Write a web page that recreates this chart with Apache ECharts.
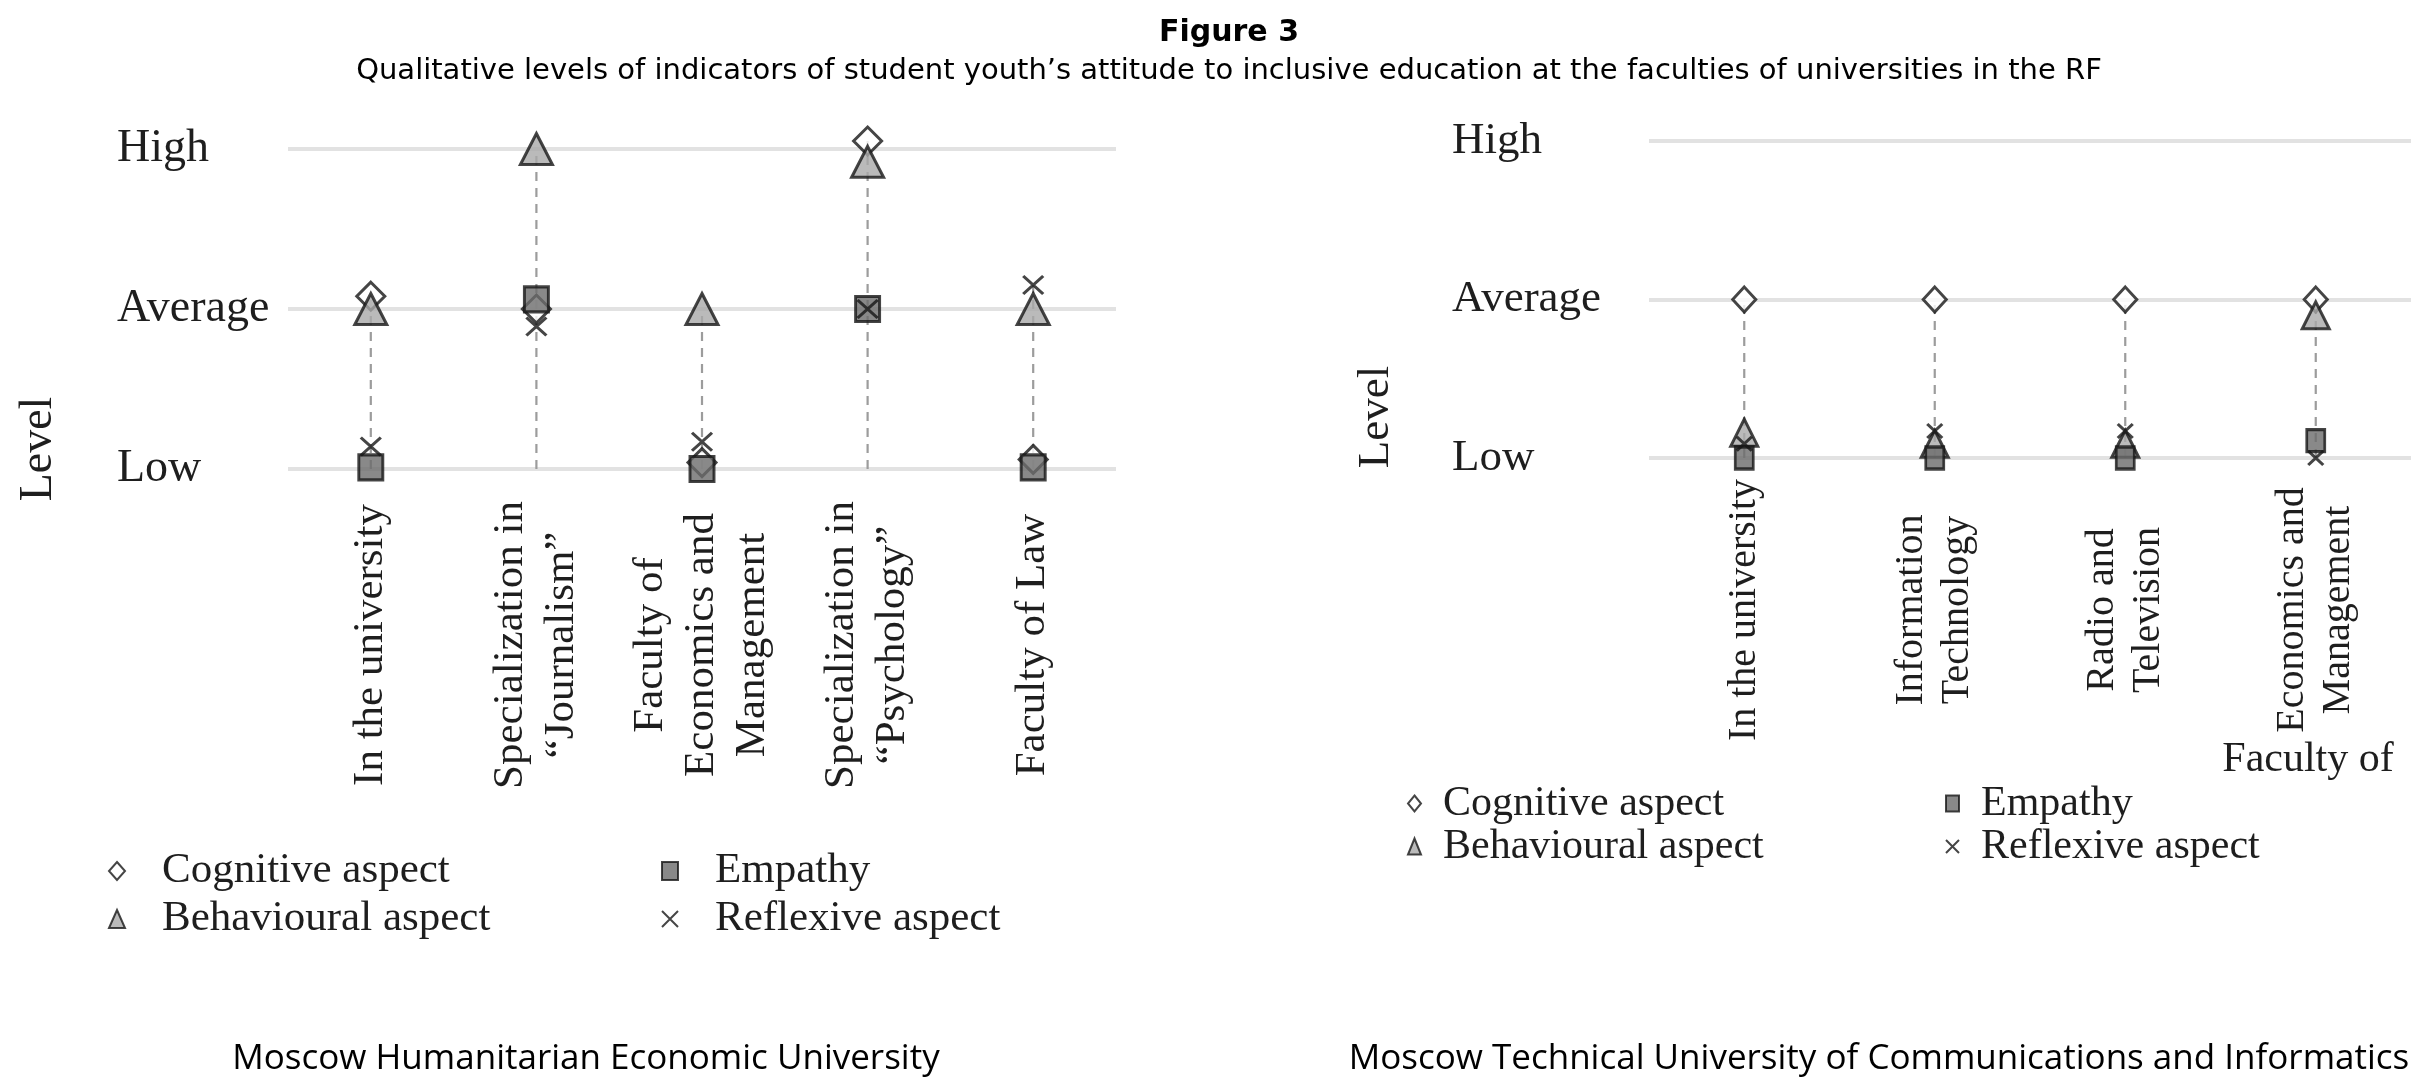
<!DOCTYPE html>
<html>
<head>
<meta charset="utf-8">
<script src="https://cdn.jsdelivr.net/npm/echarts@6/dist/echarts.min.js"></script>
<style>
html,body{margin:0;padding:0;background:#fff;}
#chart{width:2422px;height:1077px;}
</style>
</head>
<body>
<div id="chart"></div>
<script>
// ---- data ----
const levelLabels = ["Low", "Average", "High"]; // 1, 2, 3

const leftCategories = ["In the university", "Specialization in\n\u201cJournalism\u201d", "Faculty of\nEconomics and\nManagement", "Specialization in\n\u201cPsychology\u201d", "Faculty of Law"];
const leftCognitive   = [2.08, 2.0, 1.04, 3.05, 1.06];
const leftBehavioural = [2.0, 3.0, 2.0, 2.92, 2.0];
const leftEmpathy     = [1.01, 2.06, 1.0, 2.0, 1.01];
const leftReflexive   = [1.14, 1.89, 1.17, 2.0, 2.15];

const rightCategories = ["In the university", "Information\nTechnology", "Radio and\nTelevision", "Economics and\nManagement"];
const rightCognitive   = [2.0, 2.0, 2.0, 2.0];
const rightBehavioural = [1.16, 1.09, 1.09, 1.90];
const rightEmpathy     = [1.0, 1.0, 1.0, 1.11];
const rightReflexive   = [1.09, 1.17, 1.17, 1.0];

const seriesNames = ["Cognitive aspect", "Behavioural aspect", "Empathy", "Reflexive aspect"];
const figureTitle = "Figure 3";
const figureSubtitle = "Qualitative levels of indicators of student youth\u2019s attitude to inclusive education at the faculties of universities in the RF";
const leftTitle = "Moscow Humanitarian Economic University";
const rightTitle = "Moscow Technical University of Communications and Informatics";
const rightOrphanLabel = "Faculty of";

// ---- styles ----
const SERIF = "'Liberation Serif', 'Times New Roman', serif";
const crossPath = 'path://M0,0L10,10M10,0L0,10';
const styles = [
  {symbol: 'diamond', itemStyle: {color: '#ffffff', borderColor: '#161616', borderWidth: 3}},
  {symbol: 'triangle', itemStyle: {color: '#a9a9a9', borderColor: '#161616', borderWidth: 3}},
  {symbol: 'rect', itemStyle: {color: '#6b6b6b', borderColor: '#161616', borderWidth: 3}},
  {symbol: crossPath, itemStyle: {color: 'rgba(0,0,0,0)', borderColor: '#161616', borderWidth: 3}}
];
const leftSizes = [[28, 28], [32, 31], [24, 25], [20, 18]];
const rightSizes = [[23, 25], [27, 27], [18, 22], [15, 14]];

function stemData(arrs) {
  return arrs[0].map((_, i) => [i, Math.max(...arrs.map(a => a[i]))]);
}
function stemSeries(idx, data) {
  return {
    type: 'custom', xAxisIndex: idx, yAxisIndex: idx, z: 1, silent: true, clip: false,
    data: data,
    renderItem: function (params, api) {
      const x = api.value(0);
      const p1 = api.coord([x, 1]);
      const p2 = api.coord([x, api.value(1)]);
      return {type: 'line', shape: {x1: p1[0], y1: p1[1], x2: p2[0], y2: p2[1]},
        style: {stroke: '#9c9c9c', lineWidth: 2.2, lineDash: [9, 7]}};
    }
  };
}
function scatterSeries(idx, arrs, sizes) {
  return arrs.map((arr, k) => ({
    type: 'scatter', name: seriesNames[k], xAxisIndex: idx, yAxisIndex: idx, clip: false,
    symbol: styles[k].symbol, symbolSize: sizes[k], itemStyle: styles[k].itemStyle,
    z: 2 + k, data: arr.map((v, i) => [i, v])
  }));
}

const leftArrs = [leftCognitive, leftBehavioural, leftEmpathy, leftReflexive];
const rightArrs = [rightCognitive, rightBehavioural, rightEmpathy, rightReflexive];

function yAxis(idx, margin, fs) {
  return {
    type: 'value', gridIndex: idx, min: 1, max: 3, interval: 1,
    axisLine: {show: false}, axisTick: {show: false},
    axisLabel: {formatter: v => levelLabels[v - 1] || '', align: 'left', margin: margin,
      fontFamily: SERIF, fontSize: fs, color: '#1e1e1e'},
    splitLine: {show: true, lineStyle: {color: '#e2e2e2', width: 4}}
  };
}
function xAxis(idx, cats, margin, fs, lh) {
  return {
    type: 'category', gridIndex: idx, data: cats,
    axisLine: {show: false}, axisTick: {show: false},
    axisLabel: {rotate: 90, align: 'center', verticalAlign: 'middle', margin: margin, interval: 0,
      fontFamily: SERIF, fontSize: fs, lineHeight: lh, color: '#1e1e1e'}
  };
}
function legend(names, left, top, padLeft, fs, lh, iw, ih) {
  return {
    data: names, orient: 'vertical', left: left, top: top, itemGap: 0,
    itemWidth: iw, itemHeight: ih, padding: 0,
    textStyle: {fontFamily: SERIF, fontSize: fs, lineHeight: lh, color: '#1e1e1e', padding: [0, 0, 0, padLeft]}
  };
}

const option = {
  backgroundColor: '#ffffff',
  animation: false,
  title: [
    {text: figureTitle, left: 1229, top: 18, textAlign: 'center', padding: 0,
      textStyle: {fontFamily: 'DejaVu Sans', fontWeight: 'bold', fontSize: 30, color: '#000'}},
    {text: figureSubtitle, left: 1229, top: 57, textAlign: 'center', padding: 0,
      textStyle: {fontFamily: 'DejaVu Sans', fontWeight: 'normal', fontSize: 29, color: '#000'}},
    {text: leftTitle, left: 586, top: 1042, textAlign: 'center', padding: 0,
      textStyle: {fontFamily: "'Open Sans'", fontWeight: 'normal', fontSize: 35, color: '#000'}},
    {text: rightTitle, left: 1879, top: 1042, textAlign: 'center', padding: 0,
      textStyle: {fontFamily: "'Open Sans'", fontWeight: 'normal', fontSize: 35, color: '#000'}}
  ],
  grid: [
    {left: 288, top: 149, width: 828, height: 320},
    {left: 1649, top: 141, width: 762, height: 317}
  ],
  xAxis: [xAxis(0, leftCategories, 176, 43, 51), xAxis(1, rightCategories, 152, 40, 46)],
  yAxis: [yAxis(0, 171, 46), yAxis(1, 197, 45)],
  legend: [
    legend([seriesNames[0], seriesNames[1]], 108, 847, 32, 43, 48, 16, 18),
    legend([seriesNames[2], seriesNames[3]], 661, 847, 32, 43, 48, 16, 18),
    legend([seriesNames[0], seriesNames[1]], 1407, 782, 17, 42, 43, 13, 16),
    legend([seriesNames[2], seriesNames[3]], 1945, 782, 17, 42, 43, 13, 16)
  ],
  graphic: [
    {type: 'text', x: 39, y: 449, rotation: Math.PI / 2,
      style: {text: 'Level', font: "46px 'Liberation Serif'", fill: '#1e1e1e', align: 'center', verticalAlign: 'middle'}},
    {type: 'text', x: 1376, y: 417, rotation: Math.PI / 2,
      style: {text: 'Level', font: "45px 'Liberation Serif'", fill: '#1e1e1e', align: 'center', verticalAlign: 'middle'}},
    {type: 'text', x: 2308, y: 760,
      style: {text: rightOrphanLabel, font: "42px 'Liberation Serif'", fill: '#1e1e1e', align: 'center', verticalAlign: 'middle'}}
  ],
  series: [
    stemSeries(0, stemData(leftArrs)),
    ...scatterSeries(0, leftArrs, leftSizes),
    stemSeries(1, stemData(rightArrs)),
    ...scatterSeries(1, rightArrs, rightSizes)
  ]
};

const chart = echarts.init(document.getElementById('chart'));
chart.setOption(option);
</script>
</body>
</html>
